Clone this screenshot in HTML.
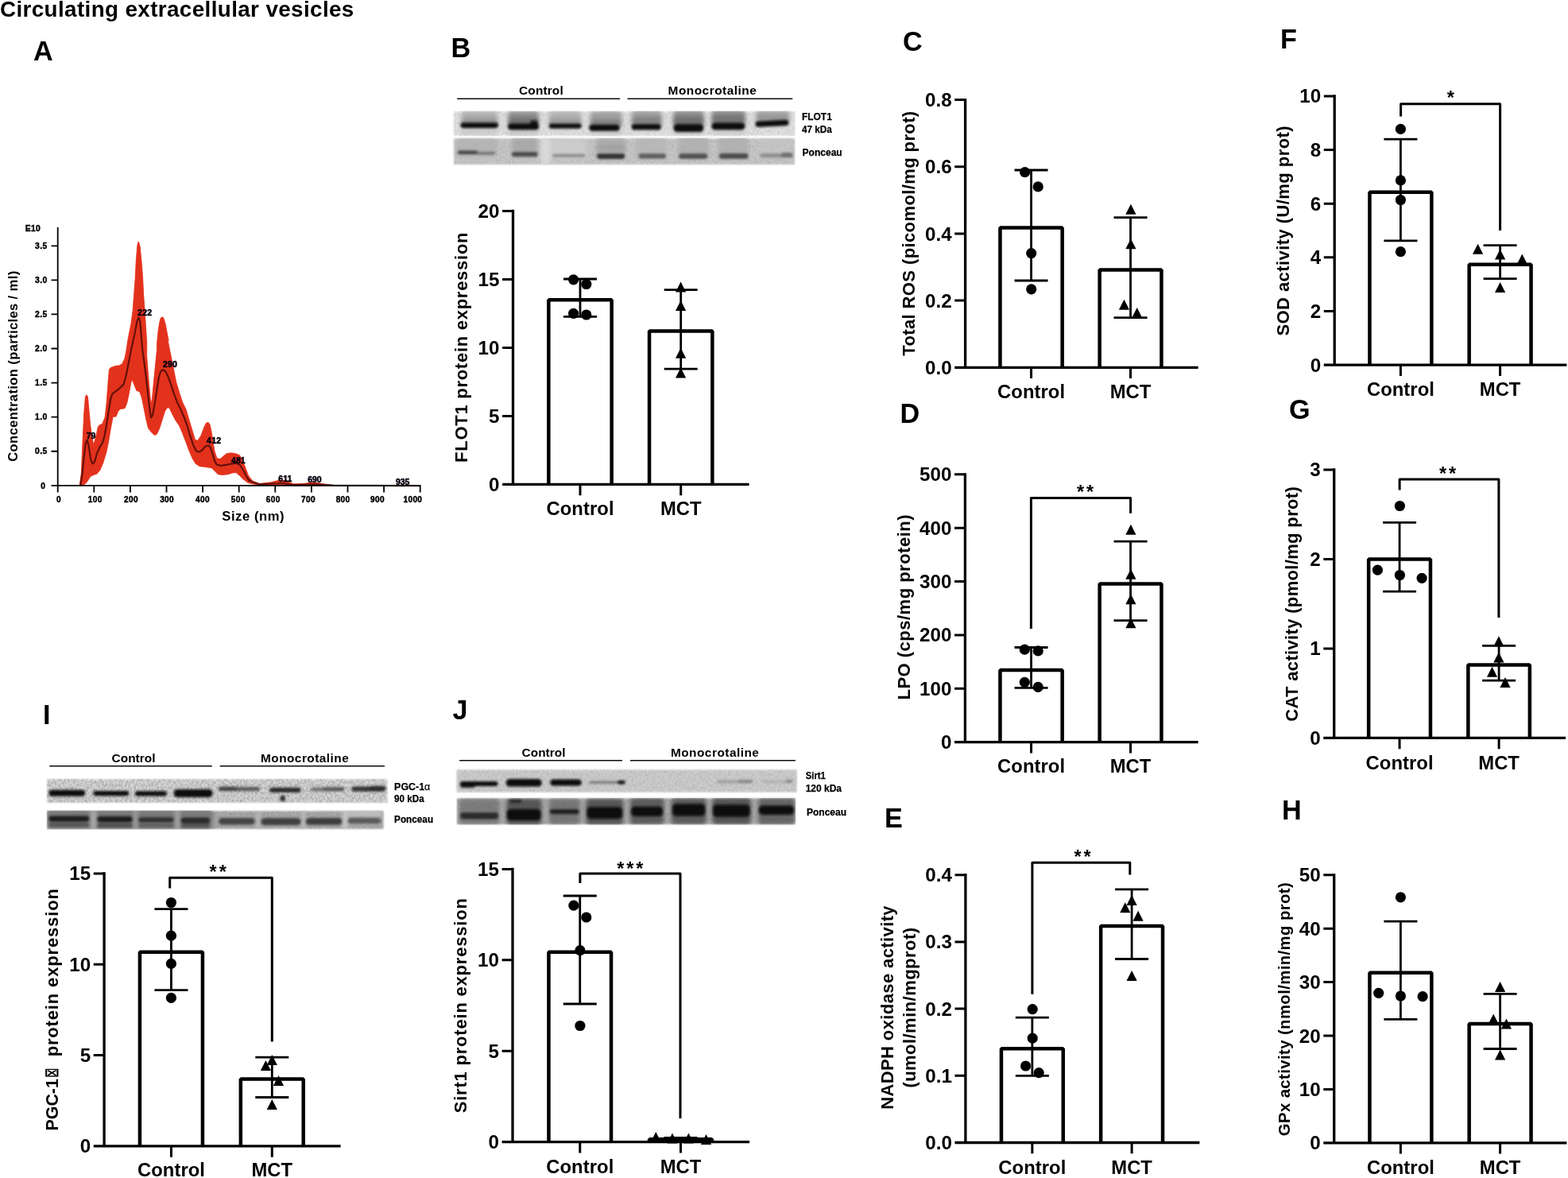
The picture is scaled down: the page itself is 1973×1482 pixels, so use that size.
<!DOCTYPE html>
<html lang="en">
<head>
<meta charset="utf-8">
<title>Circulating extracellular vesicles</title>
<style>
html,body{margin:0;padding:0;background:#fff;}
body{width:1973px;height:1482px;overflow:hidden;}
svg{display:block;position:absolute;left:0;top:0;filter:blur(0.4px);}
</style>
</head>
<body>
<svg width="1973" height="1482" viewBox="0 0 1973 1482" font-family='"Liberation Sans", Arial, Helvetica, sans-serif' font-weight="bold" fill="#000">
<defs>
<filter id="b1" x="-20%" y="-50%" width="140%" height="200%"><feGaussianBlur stdDeviation="1.7"/></filter>
<filter id="b2" x="-20%" y="-50%" width="140%" height="200%"><feGaussianBlur stdDeviation="2.6"/></filter>
<filter id="b0" x="-5%" y="-5%" width="110%" height="110%"><feGaussianBlur stdDeviation="0.6"/></filter>
<filter id="b07" x="-5%" y="-5%" width="110%" height="110%"><feGaussianBlur stdDeviation="0.75"/></filter>
<filter id="b00" x="-5%" y="-5%" width="110%" height="110%"><feGaussianBlur stdDeviation="0.45"/></filter>
<filter id="be" x="-5%" y="-20%" width="110%" height="140%"><feGaussianBlur stdDeviation="0.8"/></filter>
<filter id="nz" x="0" y="0" width="100%" height="100%" color-interpolation-filters="sRGB"><feTurbulence type="fractalNoise" baseFrequency="0.42 0.3" numOctaves="2" seed="7"/><feColorMatrix type="matrix" values="0 0 0 0 0  0 0 0 0 0  0 0 0 0 0  1.6 0 0 0 -0.55"/><feGaussianBlur stdDeviation="0.5"/></filter>
<filter id="nw" x="0" y="0" width="100%" height="100%" color-interpolation-filters="sRGB"><feTurbulence type="fractalNoise" baseFrequency="0.38 0.3" numOctaves="2" seed="11"/><feColorMatrix type="matrix" values="0 0 0 0 1  0 0 0 0 1  0 0 0 0 1  0 1.6 0 0 -0.55"/><feGaussianBlur stdDeviation="0.5"/></filter>
</defs>
<rect width="1973" height="1482" fill="#fff"/>
<text x="0" y="20.7" font-size="27.8" textLength="445.3" lengthAdjust="spacing">Circulating extracellular vesicles</text>
<text x="42.1" y="75.5" font-size="34.2">A</text>
<text x="567.5" y="72" font-size="34.2">B</text>
<text x="1136" y="64" font-size="34.2">C</text>
<text x="1132.5" y="531.5" font-size="34.2">D</text>
<text x="1113" y="1041" font-size="34.2">E</text>
<text x="1611" y="60.7" font-size="34.2">F</text>
<text x="1622" y="526.6" font-size="34.2">G</text>
<text x="1613" y="1031.4" font-size="34.2">H</text>
<text x="54" y="910.6" font-size="34.2">I</text>
<text x="569.5" y="904.9" font-size="34.2">J</text>
<g class="panelA">
<path d="M100.2 610.3L102.3 595.5L104.0 555.0L105.6 521.2L107.4 499.0L109.0 496.7L110.5 499.6L112.1 517.2L113.7 534.7L115.8 549.6L117.5 559.0L119.1 555.0L121.2 546.9L123.2 537.4L125.2 534.7L128.6 533.4L132.0 525.3L134.0 507.7L136.0 480.7L137.4 464.5L139.4 462.5L144.8 460.5L150.2 459.8L153.6 457.8L156.9 451.0L159.0 440.2L161.0 426.8L165.0 406.6L167.0 391.4L168.6 371.1L170.1 350.8L171.1 330.5L172.6 310.3L173.7 304.7L174.6 304.2L176.2 310.3L178.2 330.5L179.7 350.8L180.7 371.1L182.2 391.4L183.5 411.6L184.8 431.9L184.6 447.0L186.0 464.5L187.7 484.8L189.3 502.3L190.3 507.7L191.5 501.0L193.4 480.7L195.4 460.5L197.4 440.2L197.5 431.9L199.0 416.7L200.5 406.6L202.0 400.5L204.0 398.5L206.1 400.5L208.1 407.6L210.1 417.7L212.1 428.9L209.6 420.0L213.6 440.2L217.7 460.5L221.7 480.7L225.8 494.2L229.8 506.4L233.9 514.5L237.9 528.0L242.0 541.5L245.4 553.0L248.7 554.3L252.8 548.2L256.8 537.4L259.5 532.0L262.2 531.4L264.3 534.7L266.3 544.2L268.3 557.7L270.3 568.5L273.0 576.6L277.1 577.3L281.1 573.9L285.2 570.5L290.6 569.8L296.0 570.5L301.4 572.5L305.4 579.3L309.5 590.1L313.5 600.9L312.2 598.3L317.9 604.9L326.4 608.5L340.6 606.8L352.0 604.0L360.5 605.1L369.0 608.8L383.2 608.3L394.5 606.6L405.9 608.8L420.1 610.5L528.5 610.8L528.5 611.4L369.0 610.8L354.8 609.4L340.6 610.0L323.6 610.0L315.1 608.3L312.2 607.6L306.8 603.6L301.4 598.2L297.3 594.8L293.3 594.8L286.5 596.8L279.8 597.5L274.4 596.8L270.3 592.8L266.3 588.7L258.2 587.4L251.4 586.7L246.0 583.3L242.0 576.6L237.9 567.1L233.9 556.3L229.8 545.5L225.8 536.1L220.4 528.0L216.3 519.9L213.0 513.1L210.3 513.1L207.6 517.2L204.2 528.0L200.8 538.8L197.4 546.2L194.7 547.6L190.7 544.2L186.6 538.8L183.9 528.0L181.2 514.5L178.5 501.0L175.8 492.9L171.8 491.5L169.1 484.8L166.4 478.0L165.0 480.7L162.3 495.6L159.6 507.7L156.9 513.8L151.5 514.5L148.8 517.2L146.1 523.9L142.1 524.6L139.4 538.8L136.7 555.0L134.0 568.5L129.9 582.0L125.9 591.4L121.8 596.2L117.8 597.5L113.7 599.5L110.4 604.9L107.0 609.0L102.3 610.3Z" fill="#e3301b" stroke="#e3301b" stroke-width="0.8" stroke-linejoin="round" filter="url(#b0)"/>
<path d="M101.3 610.3L103.6 595.5L105.6 575.2L107.7 557.7L109.7 553.6L111.7 561.7L113.7 575.2L115.4 582.0L117.1 583.3L119.1 580.6L121.8 571.2L125.2 563.1L128.6 557.7L131.3 549.6L134.0 534.7L136.7 517.2L139.4 501.0L141.4 495.6L144.8 492.9L150.2 488.8L155.6 483.4L158.3 474.0L161.0 460.5L163.7 447.0L165.0 440.0L169.1 421.8L172.6 403.5L174.6 399.5L176.2 403.5L177.7 421.8L179.2 440.0L182.6 464.5L185.3 487.5L187.3 506.4L189.1 519.9L190.0 525.3L192.0 522.6L194.7 507.7L197.4 490.2L200.1 474.0L202.2 467.2L204.9 465.2L208.2 467.2L211.6 474.0L215.0 483.4L219.0 495.6L223.1 506.4L227.1 514.5L231.2 523.9L235.2 534.7L239.3 548.2L243.3 560.4L247.4 567.8L250.8 568.5L254.1 566.5L258.2 561.7L262.2 560.4L264.9 563.1L267.6 571.2L270.3 580.6L273.0 584.7L278.4 585.8L285.2 584.7L291.9 583.3L297.3 582.7L301.4 584.7L305.4 590.1L309.5 598.2L313.5 604.9L312.2 602.9L317.9 606.8L326.4 609.1L354.8 608.0L369.0 610.0L397.4 609.1L420.1 610.5L528.5 611.1" fill="none" stroke="#2a0604" stroke-width="2.2" stroke-linejoin="round" opacity="0.68" filter="url(#b07)"/>
<path d="M72.7 286V611.6999999999999M64.5 610.8H529.6M64.5 567.73H72.7M64.5 524.66H72.7M64.5 481.59H72.7M64.5 438.52H72.7M64.5 395.45H72.7M64.5 352.38H72.7M64.5 309.31H72.7M118.30 610.8V619.5999999999999M163.90 610.8V619.5999999999999M209.50 610.8V619.5999999999999M255.10 610.8V619.5999999999999M300.70 610.8V619.5999999999999M346.30 610.8V619.5999999999999M391.90 610.8V619.5999999999999M437.50 610.8V619.5999999999999M483.10 610.8V619.5999999999999M528.70 610.8V619.5999999999999M72.7 610.8V619.5999999999999" fill="none" stroke="#000" stroke-width="1.8"/>
<text x="54.2" y="614.5" font-size="10.3" text-anchor="middle" letter-spacing="0.35" stroke="#000" stroke-width="0.45">0</text>
<text x="51.8" y="571.4" font-size="10.3" text-anchor="middle" letter-spacing="0.35" stroke="#000" stroke-width="0.45">0.5</text>
<text x="51.8" y="528.4" font-size="10.3" text-anchor="middle" letter-spacing="0.35" stroke="#000" stroke-width="0.45">1.0</text>
<text x="51.8" y="485.3" font-size="10.3" text-anchor="middle" letter-spacing="0.35" stroke="#000" stroke-width="0.45">1.5</text>
<text x="51.8" y="442.2" font-size="10.3" text-anchor="middle" letter-spacing="0.35" stroke="#000" stroke-width="0.45">2.0</text>
<text x="51.8" y="399.1" font-size="10.3" text-anchor="middle" letter-spacing="0.35" stroke="#000" stroke-width="0.45">2.5</text>
<text x="51.8" y="356.1" font-size="10.3" text-anchor="middle" letter-spacing="0.35" stroke="#000" stroke-width="0.45">3.0</text>
<text x="51.8" y="313.0" font-size="10.3" text-anchor="middle" letter-spacing="0.35" stroke="#000" stroke-width="0.45">3.5</text>
<text x="74.0" y="632" font-size="10.1" text-anchor="middle" letter-spacing="0.35" stroke="#000" stroke-width="0.45">0</text>
<text x="119.8" y="632" font-size="10.1" text-anchor="middle" letter-spacing="0.35" stroke="#000" stroke-width="0.45">100</text>
<text x="165.0" y="632" font-size="10.1" text-anchor="middle" letter-spacing="0.35" stroke="#000" stroke-width="0.45">200</text>
<text x="210.1" y="632" font-size="10.1" text-anchor="middle" letter-spacing="0.35" stroke="#000" stroke-width="0.45">300</text>
<text x="255.0" y="632" font-size="10.1" text-anchor="middle" letter-spacing="0.35" stroke="#000" stroke-width="0.45">400</text>
<text x="299.8" y="632" font-size="10.1" text-anchor="middle" letter-spacing="0.35" stroke="#000" stroke-width="0.45">500</text>
<text x="343.8" y="632" font-size="10.1" text-anchor="middle" letter-spacing="0.35" stroke="#000" stroke-width="0.45">600</text>
<text x="388.0" y="632" font-size="10.1" text-anchor="middle" letter-spacing="0.35" stroke="#000" stroke-width="0.45">700</text>
<text x="431.6" y="632" font-size="10.1" text-anchor="middle" letter-spacing="0.35" stroke="#000" stroke-width="0.45">800</text>
<text x="475.0" y="632" font-size="10.1" text-anchor="middle" letter-spacing="0.35" stroke="#000" stroke-width="0.45">900</text>
<text x="519.4" y="632" font-size="10.1" text-anchor="middle" letter-spacing="0.35" stroke="#000" stroke-width="0.45">1000</text>
<text x="31.8" y="290.9" font-size="10.3" textLength="19" stroke="#000" stroke-width="0.45">E10</text>
<text x="279.3" y="655.1" font-size="16.6" textLength="78.2">Size (nm)</text>
<text x="21.8" y="580.8" font-size="16.6" textLength="240" transform="rotate(-90 21.8 580.8)">Concentration (particles / ml)</text>
<text x="108.8" y="552.1" font-size="10.5" fill="#0a0310" stroke="#0a0310" stroke-width="0.55" textLength="11.6">79</text>
<text x="173.1" y="396.8" font-size="10.5" fill="#0a0310" stroke="#0a0310" stroke-width="0.55" textLength="18">222</text>
<text x="204.9" y="462.1" font-size="10.5" fill="#0a0310" stroke="#0a0310" stroke-width="0.55" textLength="18">290</text>
<text x="260.1" y="557.8" font-size="10.5" fill="#0a0310" stroke="#0a0310" stroke-width="0.55" textLength="18">412</text>
<text x="291" y="583.3" font-size="10.5" fill="#0a0310" stroke="#0a0310" stroke-width="0.55" textLength="17.6">481</text>
<text x="350.3" y="606.1" font-size="10.5" fill="#0a0310" stroke="#0a0310" stroke-width="0.55" textLength="17">611</text>
<text x="387.2" y="606.8" font-size="10.5" fill="#0a0310" stroke="#0a0310" stroke-width="0.55" textLength="17.4">690</text>
<text x="497.9" y="609.6" font-size="10.5" fill="#0a0310" stroke="#0a0310" stroke-width="0.55" textLength="17.4">935</text>
</g>
<text x="653.1" y="119" font-size="15.4" textLength="55.6">Control</text><text x="840.6" y="119" font-size="15.4" textLength="111.1">Monocrotaline</text><path d="M575.2 124.2H780M789.6 124.2H997.3" stroke="#0a0a0a" stroke-width="1.5" fill="none"/>
<g filter="url(#be)"><rect x="571.0" y="140.3" width="429.2" height="30.3" fill="#e0e0e0"/></g><clipPath id="c1"><rect x="570.5" y="139.8" width="430.2" height="31.3"/></clipPath><g clip-path="url(#c1)"><rect x="571.0" y="140.3" width="429.2" height="30.3" filter="url(#nz)" opacity="0.12"/><rect x="571.0" y="140.3" width="429.2" height="30.3" filter="url(#nw)" opacity="0.12"/><g filter="url(#b2)"><rect x="580.7" y="140.0" width="45.6" height="20.7" rx="4.5" fill="#b0b0b0"/><rect x="639.1" y="140.0" width="38.9" height="20.7" rx="4.5" fill="#8e8e8e"/><rect x="690.8" y="140.0" width="40.8" height="20.7" rx="4.5" fill="#b2b2b2"/><rect x="742.5" y="140.0" width="40.1" height="21.9" rx="4.5" fill="#a0a0a0"/><rect x="794.7" y="139.1" width="38.2" height="22.0" rx="4.5" fill="#a0a0a0"/><rect x="846.9" y="139.1" width="39.0" height="22.0" rx="4.5" fill="#8e8e8e"/><rect x="895.4" y="138.4" width="42.6" height="22.0" rx="4.5" fill="#909090"/><rect x="951.2" y="138.4" width="41.9" height="17.6" rx="4.5" fill="#aaaaaa"/><rect x="580.7" y="163.7" width="45.6" height="6.1" rx="3.0" fill="#c4c4c4" opacity="0.8"/><rect x="639.1" y="165.0" width="38.9" height="4.9" rx="2.4" fill="#bcbcbc" opacity="0.8"/><rect x="742.5" y="165.8" width="40.1" height="4.4" rx="2.2" fill="#c0c0c0" opacity="0.8"/><rect x="846.9" y="165.6" width="39.0" height="4.4" rx="2.2" fill="#c0c0c0" opacity="0.8"/><rect x="895.4" y="164.8" width="42.6" height="4.4" rx="2.2" fill="#c4c4c4" opacity="0.8"/><rect x="580.7" y="148.5" width="45.6" height="7.3" rx="3.6" fill="#8a8a8a" opacity="0.7"/><rect x="639.1" y="147.9" width="38.9" height="8.5" rx="4.3" fill="#6a6a6a" opacity="0.8"/><rect x="690.8" y="149.1" width="40.8" height="7.3" rx="3.6" fill="#909090" opacity="0.7"/><rect x="742.5" y="149.7" width="40.1" height="8.5" rx="4.3" fill="#7a7a7a" opacity="0.8"/><rect x="794.7" y="146.4" width="38.2" height="10.3" rx="4.5" fill="#7a7a7a" opacity="0.8"/><rect x="846.9" y="146.4" width="39.0" height="11.8" rx="4.5" fill="#6a6a6a" opacity="0.85"/><rect x="895.4" y="144.2" width="42.6" height="11.8" rx="4.5" fill="#707070" opacity="0.85"/><rect x="951.2" y="144.2" width="41.9" height="7.3" rx="3.7" fill="#8a8a8a" opacity="0.7"/></g><g filter="url(#b1)"><rect x="579.5" y="154.2" width="47.4" height="6.8" rx="3.4" fill="#0a0a0a"/><rect x="639.1" y="155.2" width="38.9" height="8.0" rx="4.0" fill="#0a0a0a"/><rect x="667.1" y="151.6" width="9.7" height="6.1" rx="3.0" fill="#111" opacity="0.9"/><rect x="690.8" y="155.5" width="40.8" height="6.1" rx="3.0" fill="#0a0a0a"/><rect x="741.3" y="156.7" width="38.3" height="8.0" rx="4.0" fill="#0a0a0a"/><rect x="794.7" y="156.0" width="37.0" height="7.3" rx="3.7" fill="#0a0a0a"/><rect x="847.6" y="156.1" width="37.6" height="10.0" rx="4.5" fill="#0a0a0a"/><rect x="895.4" y="154.5" width="41.9" height="8.8" rx="4.4" fill="#0a0a0a"/><rect x="950.5" y="151.6" width="41.9" height="7.3" rx="3.7" fill="#0a0a0a" transform="rotate(-3 971.5 155.3)"/></g></g>
<g filter="url(#be)"><rect x="571.0" y="174.3" width="429.0" height="32.7" fill="#c6c6c6"/></g><clipPath id="c2"><rect x="570.5" y="173.8" width="430.0" height="33.7"/></clipPath><g clip-path="url(#c2)"><rect x="571.0" y="174.3" width="429.0" height="32.7" filter="url(#nz)" opacity="0.12"/><rect x="571.0" y="174.3" width="429.0" height="32.7" filter="url(#nw)" opacity="0.12"/><g filter="url(#b2)"><rect x="574.6" y="172.9" width="51.1" height="24.3" rx="4.5" fill="#b0b0b0" opacity="0.75"/><rect x="643.9" y="172.9" width="32.8" height="24.3" rx="4.5" fill="#a6a6a6" opacity="0.85"/><rect x="749.8" y="172.9" width="37.7" height="24.3" rx="4.5" fill="#a8a8a8" opacity="0.8"/><rect x="799.1" y="171.4" width="39.7" height="26.5" rx="4.5" fill="#b4b4b4" opacity="0.7"/><rect x="853.5" y="171.4" width="38.2" height="26.5" rx="4.5" fill="#acacac" opacity="0.8"/><rect x="903.5" y="171.4" width="38.2" height="26.5" rx="4.5" fill="#acacac" opacity="0.8"/><rect x="954.9" y="171.4" width="42.6" height="26.5" rx="4.5" fill="#c4c4c4" opacity="0.6"/><rect x="680.4" y="173.5" width="12.2" height="34.1" rx="4.5" fill="#e0e0e0" opacity="0.8"/><rect x="692.6" y="175.3" width="45.0" height="24.3" rx="4.5" fill="#d0d0d0" opacity="0.8"/><rect x="751.0" y="183.8" width="35.3" height="3.6" rx="1.8" fill="#8a8a8a" opacity="0.6"/></g><g filter="url(#b1)"><rect x="575.8" y="189.4" width="25.5" height="4.6" rx="2.3" fill="#3c3c3c" opacity="0.95"/><rect x="598.9" y="190.9" width="24.3" height="3.6" rx="1.8" fill="#666" opacity="0.85"/><rect x="643.9" y="191.2" width="32.8" height="5.8" rx="2.9" fill="#444" opacity="0.95"/><rect x="695.0" y="193.7" width="41.4" height="4.1" rx="2.1" fill="#808080" opacity="0.85"/><rect x="751.0" y="193.3" width="35.3" height="6.6" rx="3.3" fill="#333"/><rect x="803.5" y="193.3" width="34.5" height="6.2" rx="3.1" fill="#5a5a5a" opacity="0.95"/><rect x="854.2" y="193.2" width="36.0" height="6.5" rx="3.2" fill="#4a4a4a" opacity="0.95"/><rect x="904.9" y="193.0" width="36.7" height="6.8" rx="3.4" fill="#444" opacity="0.95"/><rect x="956.4" y="193.0" width="41.2" height="5.3" rx="2.6" fill="#858585" opacity="0.85"/><rect x="982.9" y="192.0" width="14.7" height="5.9" rx="2.9" fill="#666" opacity="0.8"/></g></g>
<text x="1008.9" y="150.9" font-size="13.3" textLength="37.9" lengthAdjust="spacingAndGlyphs" stroke="#000" stroke-width="0.25">FLOT1</text><text x="1008.9" y="167" font-size="13.3" textLength="37.9" lengthAdjust="spacingAndGlyphs" stroke="#000" stroke-width="0.25">47 kDa</text><text x="1009.6" y="195.7" font-size="13.3" textLength="50.1" lengthAdjust="spacingAndGlyphs" stroke="#000" stroke-width="0.25">Ponceau</text>
<text x="140.5" y="958.9" font-size="15.4" textLength="55.1">Control</text><text x="328" y="958.9" font-size="15.4" textLength="110.7">Monocrotaline</text><path d="M62.2 963.8H266.8M276.7 963.8H484" stroke="#0a0a0a" stroke-width="1.5" fill="none"/>
<g filter="url(#be)"><rect x="59.0" y="980.3" width="428.3" height="29.5" fill="#d2d2d2"/></g><clipPath id="c3"><rect x="58.5" y="979.8" width="429.3" height="30.5"/></clipPath><g clip-path="url(#c3)"><rect x="59.0" y="980.3" width="428.3" height="29.5" filter="url(#nz)" opacity="0.3"/><rect x="59.0" y="980.3" width="428.3" height="29.5" filter="url(#nw)" opacity="0.3"/><g filter="url(#b1)"><rect x="61.5" y="993.7" width="45.6" height="8.1" rx="4.1" fill="#0a0a0a"/><rect x="117.3" y="994.9" width="45.0" height="6.3" rx="3.2" fill="#0a0a0a"/><rect x="169.9" y="995.3" width="39.9" height="6.3" rx="3.2" fill="#0a0a0a"/><rect x="218.7" y="993.0" width="48.8" height="10.1" rx="4.5" fill="#0a0a0a"/><rect x="275.2" y="990.1" width="51.7" height="5.2" rx="2.6" fill="#505050" opacity="0.9"/><rect x="275.2" y="989.6" width="22.8" height="5.5" rx="2.7" fill="#333" opacity="0.6"/><rect x="339.1" y="990.7" width="39.5" height="6.4" rx="3.2" fill="#222" opacity="0.95"/><rect x="352.7" y="1000.7" width="6.1" height="7.6" rx="3.0" fill="#1a1a1a" opacity="0.9"/><rect x="390.8" y="990.8" width="42.6" height="4.6" rx="2.3" fill="#606060" opacity="0.85"/><rect x="406.0" y="990.1" width="27.4" height="4.6" rx="2.3" fill="#444" opacity="0.6"/><rect x="442.5" y="989.4" width="42.6" height="6.4" rx="3.2" fill="#2a2a2a" opacity="0.95"/><rect x="465.3" y="988.5" width="19.8" height="6.1" rx="3.0" fill="#222" opacity="0.7"/></g></g>
<g filter="url(#be)"><rect x="59.5" y="1020.3" width="423.0" height="22.5" fill="#a6a6a6"/></g><clipPath id="c4"><rect x="59.0" y="1019.8" width="424.0" height="23.5"/></clipPath><g clip-path="url(#c4)"><rect x="59.5" y="1020.3" width="423.0" height="22.5" filter="url(#nz)" opacity="0.12"/><rect x="59.5" y="1020.3" width="423.0" height="22.5" filter="url(#nw)" opacity="0.12"/><g filter="url(#b2)"><rect x="59.0" y="1018.1" width="209.1" height="25.3" rx="4.5" fill="#767676" opacity="0.9"/><rect x="114.1" y="1018.1" width="7.0" height="25.3" rx="3.5" fill="#b0b0b0" opacity="0.9"/><rect x="168.0" y="1018.1" width="5.1" height="25.3" rx="2.5" fill="#a8a8a8" opacity="0.8"/><rect x="220.6" y="1018.1" width="5.7" height="25.3" rx="2.9" fill="#b0b0b0" opacity="0.8"/><rect x="323.1" y="1016.7" width="3.8" height="30.4" rx="1.9" fill="#c4c4c4" opacity="0.8"/><rect x="380.1" y="1016.7" width="3.8" height="30.4" rx="1.9" fill="#c8c8c8" opacity="0.8"/><rect x="431.8" y="1016.7" width="5.3" height="30.4" rx="2.7" fill="#d4d4d4" opacity="0.9"/><rect x="437.9" y="1020.2" width="44.1" height="6.7" rx="3.3" fill="#c8c8c8" opacity="0.9"/></g><g filter="url(#b1)"><rect x="61.5" y="1026.6" width="50.7" height="7.1" rx="3.5" fill="#1e1e1e"/><rect x="122.4" y="1026.9" width="44.3" height="7.6" rx="3.8" fill="#1c1c1c"/><rect x="174.3" y="1028.2" width="44.3" height="6.3" rx="3.2" fill="#2e2e2e"/><rect x="227.5" y="1028.6" width="36.7" height="7.6" rx="3.8" fill="#2a2a2a"/><rect x="61.5" y="1035.2" width="50.7" height="5.1" rx="2.5" fill="#4a4a4a" opacity="0.8"/><rect x="122.4" y="1035.8" width="44.3" height="5.1" rx="2.5" fill="#444" opacity="0.8"/><rect x="174.3" y="1036.1" width="44.3" height="4.6" rx="2.3" fill="#555" opacity="0.7"/><rect x="227.5" y="1036.7" width="36.7" height="4.6" rx="2.3" fill="#4a4a4a" opacity="0.8"/><rect x="275.2" y="1029.1" width="45.6" height="8.5" rx="4.3" fill="#444"/><rect x="328.4" y="1029.3" width="50.2" height="8.8" rx="4.4" fill="#404040"/><rect x="384.7" y="1029.0" width="45.6" height="8.8" rx="4.4" fill="#3c3c3c"/><rect x="437.9" y="1029.1" width="41.1" height="7.0" rx="3.5" fill="#5a5a5a"/></g></g>
<text x="496.1" y="993.6" font-size="13.3" textLength="45.2" lengthAdjust="spacingAndGlyphs" stroke="#000" stroke-width="0.25">PGC-1<tspan font-weight="normal">α</tspan></text><text x="496.1" y="1009.1" font-size="13.3" textLength="37.6" lengthAdjust="spacingAndGlyphs" stroke="#000" stroke-width="0.25">90 kDa</text><text x="496.1" y="1035.4" font-size="13.3" textLength="49" lengthAdjust="spacingAndGlyphs" stroke="#000" stroke-width="0.25">Ponceau</text>
<text x="656.6" y="951.8" font-size="15.4" textLength="54.9">Control</text><text x="843.9" y="951.8" font-size="15.4" textLength="111">Monocrotaline</text><path d="M578.1 956.8H783M792.9 956.8H1000.8" stroke="#0a0a0a" stroke-width="1.5" fill="none"/>
<g filter="url(#be)"><rect x="574.6" y="968.4" width="428.1" height="28.2" fill="#cbcbcb"/></g><clipPath id="c5"><rect x="574.1" y="967.9" width="429.1" height="29.2"/></clipPath><g clip-path="url(#c5)"><rect x="574.6" y="968.4" width="428.1" height="28.2" filter="url(#nz)" opacity="0.12"/><rect x="574.6" y="968.4" width="428.1" height="28.2" filter="url(#nw)" opacity="0.12"/><g filter="url(#b1)"><rect x="579.0" y="983.0" width="47.5" height="6.1" rx="3.0" fill="#0a0a0a"/><rect x="579.0" y="984.6" width="19.0" height="6.3" rx="3.2" fill="#111" opacity="0.9"/><rect x="636.7" y="980.1" width="45.0" height="9.4" rx="4.5" fill="#0a0a0a"/><rect x="692.4" y="980.5" width="39.3" height="8.1" rx="4.1" fill="#0a0a0a"/><rect x="741.2" y="982.8" width="45.6" height="3.0" rx="1.5" fill="#6a6a6a" opacity="0.9"/><rect x="776.7" y="982.1" width="10.1" height="4.3" rx="2.2" fill="#111"/><rect x="901.6" y="981.7" width="45.6" height="3.6" rx="1.8" fill="#8a8a8a" opacity="0.7"/><rect x="929.0" y="981.0" width="18.2" height="3.6" rx="1.8" fill="#777" opacity="0.7"/><rect x="959.4" y="982.2" width="38.0" height="2.7" rx="1.4" fill="#a0a0a0" opacity="0.7"/><rect x="988.3" y="980.8" width="9.1" height="4.0" rx="2.0" fill="#777" opacity="0.7"/></g></g>
<g filter="url(#be)"><rect x="575.0" y="1004.5" width="425.6" height="32.5" fill="#a8a8a8"/></g><clipPath id="c6"><rect x="574.5" y="1004.0" width="426.6" height="33.5"/></clipPath><g clip-path="url(#c6)"><rect x="575.0" y="1004.5" width="425.6" height="32.5" filter="url(#nz)" opacity="0.12"/><rect x="575.0" y="1004.5" width="425.6" height="32.5" filter="url(#nw)" opacity="0.12"/><g filter="url(#b2)"><rect x="577.7" y="1004.8" width="50.7" height="32.9" rx="4.5" fill="#5a5a5a" opacity="0.55"/><rect x="637.3" y="1004.8" width="44.3" height="32.9" rx="4.5" fill="#3a3a3a" opacity="0.75"/><rect x="691.1" y="1004.8" width="38.6" height="32.9" rx="4.5" fill="#555" opacity="0.6"/><rect x="737.4" y="1004.8" width="46.9" height="32.9" rx="4.5" fill="#3a3a3a" opacity="0.75"/><rect x="792.9" y="1003.8" width="42.6" height="33.4" rx="4.5" fill="#3c3c3c" opacity="0.7"/><rect x="844.6" y="1003.8" width="44.1" height="33.4" rx="4.5" fill="#3c3c3c" opacity="0.7"/><rect x="896.3" y="1003.8" width="48.7" height="33.4" rx="4.5" fill="#3a3a3a" opacity="0.75"/><rect x="954.1" y="1003.8" width="46.4" height="33.4" rx="4.5" fill="#444" opacity="0.65"/></g><g filter="url(#b1)"><rect x="579.0" y="1022.3" width="48.2" height="8.1" rx="4.1" fill="#2a2a2a"/><rect x="637.9" y="1018.1" width="42.4" height="13.9" rx="4.5" fill="#0a0a0a"/><rect x="641.1" y="1006.3" width="15.2" height="3.3" rx="1.6" fill="#1a1a1a"/><rect x="691.8" y="1018.3" width="36.7" height="5.6" rx="2.8" fill="#1e1e1e"/><rect x="738.7" y="1015.3" width="44.3" height="14.6" rx="4.5" fill="#0a0a0a"/><rect x="794.4" y="1014.7" width="39.5" height="12.2" rx="4.5" fill="#0a0a0a"/><rect x="846.1" y="1011.4" width="41.1" height="15.2" rx="4.5" fill="#0a0a0a"/><rect x="897.1" y="1012.4" width="46.4" height="15.2" rx="4.5" fill="#0a0a0a"/><rect x="954.9" y="1013.6" width="44.1" height="11.3" rx="4.5" fill="#0a0a0a"/></g></g>
<text x="1013.7" y="980" font-size="13.3" textLength="25.2" lengthAdjust="spacingAndGlyphs" stroke="#000" stroke-width="0.25">Sirt1</text><text x="1013.7" y="995.7" font-size="13.3" textLength="45.3" lengthAdjust="spacingAndGlyphs" stroke="#000" stroke-width="0.25">120 kDa</text><text x="1014.9" y="1026.1" font-size="13.3" textLength="50.2" lengthAdjust="spacingAndGlyphs" stroke="#000" stroke-width="0.25">Ponceau</text>
<g class="chart">
<path d="M690.35 609.4V377.35H769.65V609.4" fill="#fff" stroke="#000" stroke-width="4.5" stroke-linejoin="bevel"/>
<path d="M817.05 609.4V416.45H896.35V609.4" fill="#fff" stroke="#000" stroke-width="4.5" stroke-linejoin="bevel"/>
<path d="M645.5 263.75V611.05M632.1 609.4H942.5" fill="none" stroke="#000" stroke-width="3.3"/>
<text x="628.5" y="617.96" font-size="24.2" text-anchor="end">0</text>
<text x="628.5" y="531.96" font-size="24.2" text-anchor="end">5</text>
<text x="628.5" y="445.96" font-size="24.2" text-anchor="end">10</text>
<text x="628.5" y="359.96" font-size="24.2" text-anchor="end">15</text>
<text x="628.5" y="273.96" font-size="24.2" text-anchor="end">20</text>
<path d="M632.1 523.4H645.5M632.1 437.4H645.5M632.1 351.4H645.5M632.1 265.4H645.5M730 609.4V623.2M856.7 609.4V623.2" fill="none" stroke="#000" stroke-width="3"/>
<path d="M730 351V398.4M709 351H751M709 398.4H751M856.7 364.6V464.2M835.7 364.6H877.7M835.7 464.2H877.7" fill="none" stroke="#000" stroke-width="2.8"/>
<circle cx="721.6" cy="351.8" r="6.6"/>
<circle cx="737.8" cy="357.5" r="6.6"/>
<circle cx="721.6" cy="394.3" r="6.6"/>
<circle cx="737.8" cy="396" r="6.6"/>
<path d="M856.6 354.6L863.2 367.6H850Z"/>
<path d="M856.6 377.9L863.2 390.9H850Z"/>
<path d="M856.6 437.7L863.2 450.7H850Z"/>
<path d="M856.6 462.6L863.2 475.6H850Z"/>
<text x="687.5" y="648.2" font-size="23.8" textLength="85" lengthAdjust="spacing">Control</text>
<text x="830.9" y="648.2" font-size="23.8" textLength="51.6" lengthAdjust="spacing">MCT</text>
<text x="587.6" y="581.95" font-size="22" textLength="289.5" lengthAdjust="spacing" transform="rotate(-90 587.6 581.95)">FLOT1 protein expression</text>
</g>
<g class="chart">
<path d="M1258.45 462.3V286.45H1336.65V462.3" fill="#fff" stroke="#000" stroke-width="4.5" stroke-linejoin="bevel"/>
<path d="M1383.65 462.3V339.45H1461.45V462.3" fill="#fff" stroke="#000" stroke-width="4.5" stroke-linejoin="bevel"/>
<path d="M1214.6 123.95V463.95M1201.2 462.3H1507.6" fill="none" stroke="#000" stroke-width="3.3"/>
<text x="1197.6" y="470.86" font-size="24.2" text-anchor="end">0.0</text>
<text x="1197.6" y="386.69" font-size="24.2" text-anchor="end">0.2</text>
<text x="1197.6" y="302.51" font-size="24.2" text-anchor="end">0.4</text>
<text x="1197.6" y="218.34" font-size="24.2" text-anchor="end">0.6</text>
<text x="1197.6" y="134.16" font-size="24.2" text-anchor="end">0.8</text>
<path d="M1201.2 378.12H1214.6M1201.2 293.95H1214.6M1201.2 209.77H1214.6M1201.2 125.6H1214.6M1297.55 462.3V476.1M1422.55 462.3V476.1" fill="none" stroke="#000" stroke-width="3"/>
<path d="M1297.55 214V353M1276.55 214H1318.55M1276.55 353H1318.55M1422.55 273.7V399.6M1401.55 273.7H1443.55M1401.55 399.6H1443.55" fill="none" stroke="#000" stroke-width="2.8"/>
<circle cx="1289.6" cy="216.7" r="6.6"/>
<circle cx="1306.2" cy="234.9" r="6.6"/>
<circle cx="1297.7" cy="318.6" r="6.6"/>
<circle cx="1297.7" cy="363.8" r="6.6"/>
<path d="M1422.9 256.7L1429.5 269.7H1416.3Z"/>
<path d="M1422.9 300.3L1429.5 313.3H1416.3Z"/>
<path d="M1414.5 376.8L1421.1 389.8H1407.9Z"/>
<path d="M1430.7 387L1437.3 400H1424.1Z"/>
<text x="1255.05" y="501.3" font-size="23.8" textLength="85" lengthAdjust="spacing">Control</text>
<text x="1396.75" y="501.3" font-size="23.8" textLength="51.6" lengthAdjust="spacing">MCT</text>
<text x="1150.6" y="447.8" font-size="22" textLength="308" lengthAdjust="spacing" transform="rotate(-90 1150.6 447.8)">Total ROS (picomol/mg prot)</text>
</g>
<g class="chart">
<path d="M1258.45 933.6V843.05H1336.65V933.6" fill="#fff" stroke="#000" stroke-width="4.5" stroke-linejoin="bevel"/>
<path d="M1383.65 933.6V734.45H1461.45V933.6" fill="#fff" stroke="#000" stroke-width="4.5" stroke-linejoin="bevel"/>
<path d="M1214.4 595.15V935.25M1201 933.6H1507.6" fill="none" stroke="#000" stroke-width="3.3"/>
<text x="1197.4" y="942.16" font-size="24.2" text-anchor="end">0</text>
<text x="1197.4" y="874.8" font-size="24.2" text-anchor="end">100</text>
<text x="1197.4" y="807.44" font-size="24.2" text-anchor="end">200</text>
<text x="1197.4" y="740.08" font-size="24.2" text-anchor="end">300</text>
<text x="1197.4" y="672.72" font-size="24.2" text-anchor="end">400</text>
<text x="1197.4" y="605.36" font-size="24.2" text-anchor="end">500</text>
<path d="M1201 866.24H1214.4M1201 798.88H1214.4M1201 731.52H1214.4M1201 664.16H1214.4M1201 596.8H1214.4M1297.55 933.6V947.4M1422.55 933.6V947.4" fill="none" stroke="#000" stroke-width="3"/>
<path d="M1297.55 814.5V865.4M1276.55 814.5H1318.55M1276.55 865.4H1318.55M1422.55 681.2V780.7M1401.55 681.2H1443.55M1401.55 780.7H1443.55" fill="none" stroke="#000" stroke-width="2.8"/>
<circle cx="1289.3" cy="817.2" r="6.6"/>
<circle cx="1306.2" cy="818.9" r="6.6"/>
<circle cx="1289.3" cy="858.3" r="6.6"/>
<circle cx="1306.2" cy="864.4" r="6.6"/>
<path d="M1422.9 659.8L1429.5 672.8H1416.3Z"/>
<path d="M1422.9 715.8L1429.5 728.8H1416.3Z"/>
<path d="M1422.9 747.2L1429.5 760.2H1416.3Z"/>
<path d="M1422.9 777.2L1429.5 790.2H1416.3Z"/>
<path d="M1297.4 790.9V626.5H1422.6V645.8" fill="none" stroke="#000" stroke-width="3" stroke-linejoin="round"/>
<text x="1367.05" y="627.2" font-size="23.5" text-anchor="middle" letter-spacing="2.9">**</text>
<text x="1255.05" y="972.4" font-size="23.8" textLength="85" lengthAdjust="spacing">Control</text>
<text x="1396.75" y="972.4" font-size="23.8" textLength="51.6" lengthAdjust="spacing">MCT</text>
<text x="1144.9" y="880.5" font-size="22" textLength="233" lengthAdjust="spacing" transform="rotate(-90 1144.9 880.5)">LPO (cps/mg protein)</text>
</g>
<g class="chart">
<path d="M1259.95 1437.5V1319.35H1337.75V1437.5" fill="#fff" stroke="#000" stroke-width="4.5" stroke-linejoin="bevel"/>
<path d="M1385.15 1437.5V1164.95H1463.05V1437.5" fill="#fff" stroke="#000" stroke-width="4.5" stroke-linejoin="bevel"/>
<path d="M1214.9 1099.05V1439.15M1201.5 1437.5H1509.4" fill="none" stroke="#000" stroke-width="3.3"/>
<text x="1197.9" y="1446.06" font-size="24.2" text-anchor="end">0.0</text>
<text x="1197.9" y="1361.86" font-size="24.2" text-anchor="end">0.1</text>
<text x="1197.9" y="1277.66" font-size="24.2" text-anchor="end">0.2</text>
<text x="1197.9" y="1193.46" font-size="24.2" text-anchor="end">0.3</text>
<text x="1197.9" y="1109.26" font-size="24.2" text-anchor="end">0.4</text>
<path d="M1201.5 1353.3H1214.9M1201.5 1269.1H1214.9M1201.5 1184.9H1214.9M1201.5 1100.7H1214.9M1298.85 1437.5V1451.3M1424.1 1437.5V1451.3" fill="none" stroke="#000" stroke-width="3"/>
<path d="M1298.85 1280.2V1353.3M1277.85 1280.2H1319.85M1277.85 1353.3H1319.85M1424.1 1118.8V1206.5M1403.1 1118.8H1445.1M1403.1 1206.5H1445.1" fill="none" stroke="#000" stroke-width="2.8"/>
<circle cx="1299.2" cy="1269.6" r="6.6"/>
<circle cx="1299.2" cy="1306.1" r="6.6"/>
<circle cx="1290.6" cy="1341" r="6.6"/>
<circle cx="1307.2" cy="1349.6" r="6.6"/>
<path d="M1424.1 1125.9L1430.7 1138.9H1417.5Z"/>
<path d="M1415.8 1135.2L1422.4 1148.2H1409.2Z"/>
<path d="M1432.1 1145.8L1438.7 1158.8H1425.5Z"/>
<path d="M1424.1 1220.9L1430.7 1233.9H1417.5Z"/>
<path d="M1298.9 1250.7V1085.3H1421.8V1100.6" fill="none" stroke="#000" stroke-width="3" stroke-linejoin="round"/>
<text x="1363.45" y="1086" font-size="23.5" text-anchor="middle" letter-spacing="2.9">**</text>
<text x="1256.35" y="1476.5" font-size="23.8" textLength="85" lengthAdjust="spacing">Control</text>
<text x="1398.3" y="1476.5" font-size="23.8" textLength="51.6" lengthAdjust="spacing">MCT</text>
<text x="1123.9" y="1395.8" font-size="22" textLength="256.4" lengthAdjust="spacing" transform="rotate(-90 1123.9 1395.8)">NADPH oxidase activity</text>
<text x="1151.8" y="1368.6" font-size="22" textLength="201.6" lengthAdjust="spacing" transform="rotate(-90 1151.8 1368.6)">(umol/min/mgprot)</text>
</g>
<g class="chart">
<path d="M1723.45 459.1V241.65H1801.35V459.1" fill="#fff" stroke="#000" stroke-width="4.5" stroke-linejoin="bevel"/>
<path d="M1848.65 459.1V332.75H1926.55V459.1" fill="#fff" stroke="#000" stroke-width="4.5" stroke-linejoin="bevel"/>
<path d="M1679.2 119.25V460.75M1665.8 459.1H1971.4" fill="none" stroke="#000" stroke-width="3.3"/>
<text x="1662.2" y="467.66" font-size="24.2" text-anchor="end">0</text>
<text x="1662.2" y="400.02" font-size="24.2" text-anchor="end">2</text>
<text x="1662.2" y="332.38" font-size="24.2" text-anchor="end">4</text>
<text x="1662.2" y="264.74" font-size="24.2" text-anchor="end">6</text>
<text x="1662.2" y="197.1" font-size="24.2" text-anchor="end">8</text>
<text x="1662.2" y="129.46" font-size="24.2" text-anchor="end">10</text>
<path d="M1665.8 391.46H1679.2M1665.8 323.82H1679.2M1665.8 256.18H1679.2M1665.8 188.54H1679.2M1665.8 120.9H1679.2M1762.4 459.1V472.9M1887.6 459.1V472.9" fill="none" stroke="#000" stroke-width="3"/>
<path d="M1762.4 175.2V302.8M1741.4 175.2H1783.4M1741.4 302.8H1783.4M1887.6 308.6V350.7M1866.6 308.6H1908.6M1866.6 350.7H1908.6" fill="none" stroke="#000" stroke-width="2.8"/>
<circle cx="1762.4" cy="162.4" r="6.6"/>
<circle cx="1762.4" cy="226.9" r="6.6"/>
<circle cx="1762.4" cy="251.5" r="6.6"/>
<circle cx="1762.4" cy="316.7" r="6.6"/>
<path d="M1859.6 306.7L1866.2 319.7H1853Z"/>
<path d="M1887.6 313.5L1894.2 326.5H1881Z"/>
<path d="M1915.3 319.5L1921.9 332.5H1908.7Z"/>
<path d="M1887.6 355L1894.2 368H1881Z"/>
<path d="M1762.6 146.6V130.7H1887.6V290" fill="none" stroke="#000" stroke-width="3" stroke-linejoin="round"/>
<text x="1826.65" y="131.4" font-size="23.5" text-anchor="middle" letter-spacing="2.9">*</text>
<text x="1719.9" y="498.3" font-size="23.8" textLength="85" lengthAdjust="spacing">Control</text>
<text x="1861.8" y="498.3" font-size="23.8" textLength="51.6" lengthAdjust="spacing">MCT</text>
<text x="1622" y="422.6" font-size="22" textLength="264.2" lengthAdjust="spacing" transform="rotate(-90 1622 422.6)">SOD activity (U/mg prot)</text>
</g>
<g class="chart">
<path d="M1722.15 928.4V703.55H1799.95V928.4" fill="#fff" stroke="#000" stroke-width="4.5" stroke-linejoin="bevel"/>
<path d="M1847.35 928.4V836.45H1924.85V928.4" fill="#fff" stroke="#000" stroke-width="4.5" stroke-linejoin="bevel"/>
<path d="M1678.7 589.25V930.05M1665.3 928.4H1970" fill="none" stroke="#000" stroke-width="3.3"/>
<text x="1661.7" y="936.96" font-size="24.2" text-anchor="end">0</text>
<text x="1661.7" y="824.46" font-size="24.2" text-anchor="end">1</text>
<text x="1661.7" y="711.96" font-size="24.2" text-anchor="end">2</text>
<text x="1661.7" y="599.46" font-size="24.2" text-anchor="end">3</text>
<path d="M1665.3 815.9H1678.7M1665.3 703.4H1678.7M1665.3 590.9H1678.7M1761.05 928.4V942.2M1886.1 928.4V942.2" fill="none" stroke="#000" stroke-width="3"/>
<path d="M1761.05 657.4V744.1M1740.05 657.4H1782.05M1740.05 744.1H1782.05M1886.1 812.3V856.2M1865.1 812.3H1907.1M1865.1 856.2H1907.1" fill="none" stroke="#000" stroke-width="2.8"/>
<circle cx="1761.4" cy="636.5" r="6.6"/>
<circle cx="1733.4" cy="717.1" r="6.6"/>
<circle cx="1761.4" cy="723.5" r="6.6"/>
<circle cx="1789.1" cy="727.3" r="6.6"/>
<path d="M1885.9 800.3L1892.5 813.3H1879.3Z"/>
<path d="M1885.9 820.6L1892.5 833.6H1879.3Z"/>
<path d="M1877.5 838.8L1884.1 851.8H1870.9Z"/>
<path d="M1894 852L1900.6 865H1887.4Z"/>
<path d="M1761.1 616.6V603.1H1885.9V776.9" fill="none" stroke="#000" stroke-width="3" stroke-linejoin="round"/>
<text x="1822.95" y="603.8" font-size="23.5" text-anchor="middle" letter-spacing="2.9">**</text>
<text x="1718.55" y="967.6" font-size="23.8" textLength="85" lengthAdjust="spacing">Control</text>
<text x="1860.3" y="967.6" font-size="23.8" textLength="51.6" lengthAdjust="spacing">MCT</text>
<text x="1632.8" y="907.8" font-size="22" textLength="295.6" lengthAdjust="spacing" transform="rotate(-90 1632.8 907.8)">CAT activity (pmol/mg prot)</text>
</g>
<g class="chart">
<path d="M1723.45 1437.8V1223.85H1801.35V1437.8" fill="#fff" stroke="#000" stroke-width="4.5" stroke-linejoin="bevel"/>
<path d="M1848.65 1437.8V1287.95H1926.55V1437.8" fill="#fff" stroke="#000" stroke-width="4.5" stroke-linejoin="bevel"/>
<path d="M1678.7 1099.15V1439.45M1665.3 1437.8H1971.4" fill="none" stroke="#000" stroke-width="3.3"/>
<text x="1661.7" y="1446.36" font-size="24.2" text-anchor="end">0</text>
<text x="1661.7" y="1378.96" font-size="24.2" text-anchor="end">10</text>
<text x="1661.7" y="1311.56" font-size="24.2" text-anchor="end">20</text>
<text x="1661.7" y="1244.16" font-size="24.2" text-anchor="end">30</text>
<text x="1661.7" y="1176.76" font-size="24.2" text-anchor="end">40</text>
<text x="1661.7" y="1109.36" font-size="24.2" text-anchor="end">50</text>
<path d="M1665.3 1370.4H1678.7M1665.3 1303H1678.7M1665.3 1235.6H1678.7M1665.3 1168.2H1678.7M1665.3 1100.8H1678.7M1762.4 1437.8V1451.6M1887.6 1437.8V1451.6" fill="none" stroke="#000" stroke-width="3"/>
<path d="M1762.4 1159.2V1282.4M1741.4 1159.2H1783.4M1741.4 1282.4H1783.4M1887.6 1250.3V1319.5M1866.6 1250.3H1908.6M1866.6 1319.5H1908.6" fill="none" stroke="#000" stroke-width="2.8"/>
<circle cx="1762.4" cy="1128.8" r="6.6"/>
<circle cx="1734.7" cy="1249.3" r="6.6"/>
<circle cx="1762.4" cy="1253" r="6.6"/>
<circle cx="1790.1" cy="1253.7" r="6.6"/>
<path d="M1887.6 1235L1894.2 1248H1881Z"/>
<path d="M1879.2 1275.5L1885.8 1288.5H1872.6Z"/>
<path d="M1895.4 1281.5L1902 1294.5H1888.8Z"/>
<path d="M1887.6 1320.4L1894.2 1333.4H1881Z"/>
<text x="1719.9" y="1477.1" font-size="23.8" textLength="85" lengthAdjust="spacing">Control</text>
<text x="1861.8" y="1477.1" font-size="23.8" textLength="51.6" lengthAdjust="spacing">MCT</text>
<text x="1623.4" y="1429.2" font-size="20.3" textLength="319" lengthAdjust="spacing" transform="rotate(-90 1623.4 1429.2)">GPx activity (nmol/min/mg prot)</text>
</g>
<g class="chart">
<path d="M175.95 1441.9V1197.65H254.95V1441.9" fill="#fff" stroke="#000" stroke-width="4.5" stroke-linejoin="bevel"/>
<path d="M302.85 1441.9V1357.45H381.75V1441.9" fill="#fff" stroke="#000" stroke-width="4.5" stroke-linejoin="bevel"/>
<path d="M131.1 1097.25V1443.55M117.7 1441.9H428.6" fill="none" stroke="#000" stroke-width="3.3"/>
<text x="114.1" y="1450.46" font-size="24.2" text-anchor="end">0</text>
<text x="114.1" y="1336.13" font-size="24.2" text-anchor="end">5</text>
<text x="114.1" y="1221.8" font-size="24.2" text-anchor="end">10</text>
<text x="114.1" y="1107.46" font-size="24.2" text-anchor="end">15</text>
<path d="M117.7 1327.57H131.1M117.7 1213.23H131.1M117.7 1098.9H131.1M215.45 1441.9V1455.7M342.3 1441.9V1455.7" fill="none" stroke="#000" stroke-width="3"/>
<path d="M215.45 1143.7V1245.6M194.45 1143.7H236.45M194.45 1245.6H236.45M342.3 1330.2V1380.5M321.3 1330.2H363.3M321.3 1380.5H363.3" fill="none" stroke="#000" stroke-width="2.8"/>
<circle cx="215.4" cy="1135.5" r="6.6"/>
<circle cx="215.4" cy="1177.2" r="6.6"/>
<circle cx="215.4" cy="1212.4" r="6.6"/>
<circle cx="215.4" cy="1255.3" r="6.6"/>
<path d="M342.3 1327L348.9 1340H335.7Z"/>
<path d="M334.4 1334.1L341 1347.1H327.8Z"/>
<path d="M350.5 1353.1L357.1 1366.1H343.9Z"/>
<path d="M342.3 1382.9L348.9 1395.9H335.7Z"/>
<path d="M213.7 1117.6V1104.3H342.3V1310.4" fill="none" stroke="#000" stroke-width="3" stroke-linejoin="round"/>
<text x="275.65" y="1105" font-size="23.5" text-anchor="middle" letter-spacing="2.9">**</text>
<text x="172.95" y="1480.2" font-size="23.8" textLength="85" lengthAdjust="spacing">Control</text>
<text x="316.5" y="1480.2" font-size="23.8" textLength="51.6" lengthAdjust="spacing">MCT</text>
<text x="72.8" y="1422.5" font-size="22" transform="rotate(-90 72.8 1422.5)"><tspan x="72.8" textLength="65.4" lengthAdjust="spacingAndGlyphs">PGC-1</tspan><tspan x="139.7" textLength="11.6" font-family="DejaVu Sans, sans-serif" font-size="21.4" lengthAdjust="spacingAndGlyphs" stroke="#000" stroke-width="0.9">☒</tspan><tspan x="159" textLength="218.2" > protein expression</tspan></text>
</g>
<g class="chart">
<path d="M690.45 1436.7V1197.65H769.05V1436.7" fill="#fff" stroke="#000" stroke-width="4.5" stroke-linejoin="bevel"/>
<path d="M817.05 1436.7V1433.25H895.95V1436.7" fill="#fff" stroke="#000" stroke-width="4.5" stroke-linejoin="bevel"/>
<path d="M645 1091.75V1438.35M631.6 1436.7H943.1" fill="none" stroke="#000" stroke-width="3.3"/>
<text x="628" y="1445.26" font-size="24.2" text-anchor="end">0</text>
<text x="628" y="1330.83" font-size="24.2" text-anchor="end">5</text>
<text x="628" y="1216.4" font-size="24.2" text-anchor="end">10</text>
<text x="628" y="1101.96" font-size="24.2" text-anchor="end">15</text>
<path d="M631.6 1322.27H645M631.6 1207.83H645M631.6 1093.4H645M729.75 1436.7V1450.5M856.5 1436.7V1450.5" fill="none" stroke="#000" stroke-width="3"/>
<path d="M729.75 1127V1263M708.75 1127H750.75M708.75 1263H750.75M856.5 1431.5V1434M835.5 1431.5H877.5M835.5 1434H877.5" fill="none" stroke="#000" stroke-width="2.8"/>
<circle cx="721.9" cy="1139.2" r="6.6"/>
<circle cx="737.8" cy="1154" r="6.6"/>
<circle cx="729.9" cy="1195.7" r="6.6"/>
<circle cx="729.9" cy="1290.5" r="6.6"/>
<path d="M825.3 1424.1L831.9 1437.1H818.7Z"/>
<path d="M846 1425.6L852.6 1438.6H839.4Z"/>
<path d="M866.4 1425.6L873 1438.6H859.8Z"/>
<path d="M888.5 1427.1L895.1 1440.1H881.9Z"/>
<path d="M729.9 1111.1V1098.9H856V1406.9" fill="none" stroke="#000" stroke-width="3" stroke-linejoin="round"/>
<text x="794.35" y="1100.8" font-size="23.5" text-anchor="middle" letter-spacing="2.9">***</text>
<text x="687.25" y="1475.5" font-size="23.8" textLength="85" lengthAdjust="spacing">Control</text>
<text x="830.7" y="1475.5" font-size="23.8" textLength="51.6" lengthAdjust="spacing">MCT</text>
<text x="587.4" y="1400.3" font-size="22" textLength="270.2" lengthAdjust="spacing" transform="rotate(-90 587.4 1400.3)">Sirt1 protein expression</text>
</g>
</svg>
</body>
</html>
